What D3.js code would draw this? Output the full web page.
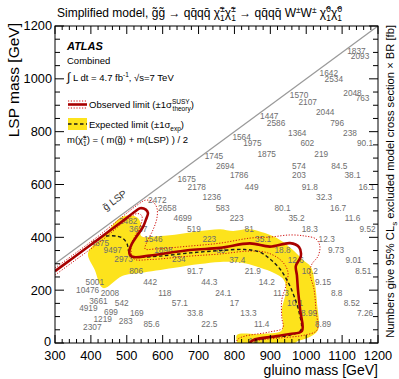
<!DOCTYPE html>
<html>
<head>
<meta charset="utf-8">
<script src="https://cdn.jsdelivr.net/npm/d3@7"></script>
<style>
  body { margin: 0; background: #fff; }
  svg { font-family: "Liberation Sans", Arial, sans-serif; }
</style>
</head>
<body>
<div id="chart"></div>
<script>
// chart size and plot frame
const width = 399, height = 379;
const margin = {left: 55, right: 21, top: 26, bottom: 36};

// numbers printed on the grid: gluino mass, LSP mass, excluded cross section [fb]
const pointGluino = [1140, 1150, 1063, 1077, 1129, 1157, 980, 1004, 1053, 1086,
  897, 916, 975, 1122, 820, 850, 1003, 1164, 743, 890, 1042, 774, 980, 1092,
  813, 980, 1129, 667, 695, 848, 1010, 1168, 737, 1050, 585, 613, 767, 934, 1089,
  656, 806, 973, 1129, 504, 532, 687, 841, 1010, 1171, 574, 730, 880, 1057,
  425, 461, 602, 762, 934, 1083, 491, 645, 808, 971, 1132, 526, 690, 851, 1010, 1159,
  411, 565, 730, 890, 1047, 391, 453, 606, 769, 930, 1085, 421, 486, 648, 800, 969, 1127,
  393, 456, 528, 690, 839, 1008, 1164, 433, 497, 569, 730, 876, 1047, 404, 862];
const pointLsp = [1105, 1085, 1021, 1000, 947, 926, 939, 913, 873, 832,
  860, 832, 794, 794, 781, 755, 755, 755, 708, 715, 715, 670, 670, 670,
  636, 636, 636, 620, 592, 592, 592, 592, 553, 553, 541, 512, 512, 512, 512,
  472, 472, 472, 472, 462, 430, 430, 430, 430, 430, 392, 392, 392, 392,
  377, 352, 352, 352, 352, 352, 316, 316, 314, 314, 314, 273, 273, 273, 273, 273,
  230, 230, 230, 230, 230, 201, 190, 190, 190, 190, 190, 160, 150, 150, 150, 150, 150,
  131, 118, 112, 112, 112, 112, 112, 90, 83, 72, 72, 72, 72, 59, 9];
const pointLabel = ["1837", "2093", "1642", "2534", "2048", "763", "1570", "2107", "2044", "796",
  "1447", "2586", "1364", "238", "1564", "1975", "602", "90.1", "1745", "1875", "219", "2694", "574", "84.5",
  "1786", "203", "38.1", "1675", "2178", "449", "91.8", "16.1", "1236", "32.3", "2472", "2658", "583", "80.1", "16.7",
  "4699", "223", "35.2", "11.6", "2482", "3637", "519", "81", "18.3", "9.52", "1546", "223", "35.1", "12.3",
  "4875", "9497", "1898", "89", "18.8", "9.73", "2973", "234", "37.4", "12.6", "9.01", "806", "91.7", "21.9", "10.2", "8.51",
  "5001", "442", "44.3", "14.2", "9.15", "10476", "2008", "118", "24.1", "11.3", "8.8", "3661", "542", "57.1", "17", "10.1", "8.52",
  "4919", "699", "169", "33.8", "13.3", "8.99", "7.26", "1219", "283", "85.6", "22.5", "11.4", "8.89", "2307", "10.1"];

// observed limit contour [gluino, LSP]
const observed = [[300, 272], [350, 322], [425, 397], [481, 454], [523, 498], [537, 510], [553, 505],
  [559, 492], [553, 466], [545, 439], [528, 405], [514, 375], [507, 348], [509, 333], [520, 325],
  [565, 331], [676, 352], [760, 360], [843, 377], [899, 365], [955, 378], [980, 363], [985, 329],
  [971, 291], [974, 257], [977, 201], [983, 125], [988, 45], [955, 34], [918, 26], [852, 11], [843, 0]];
const observedUp = [[300, 284], [350, 333], [425, 409], [531, 524], [553, 541], [573, 534], [584, 511],
  [584, 473], [573, 428], [556, 382], [551, 356], [579, 356], [676, 367], [760, 378], [843, 397],
  [899, 401], [955, 409], [996, 405], [1027, 394], [1038, 367], [1033, 329], [1016, 299], [1010, 269],
  [1022, 201], [1027, 125], [1030, 49], [996, 30], [927, 19], [860, 8], [852, 0]];
const observedDown = [[300, 257], [350, 307], [425, 382], [514, 481], [531, 490], [542, 481], [540, 450],
  [526, 413], [514, 378], [512, 348], [520, 318], [565, 316], [676, 329], [760, 337], [843, 348],
  [893, 341], [932, 310], [949, 269], [944, 220], [932, 163], [932, 95], [935, 57], [899, 42],
  [829, 26], [810, 15], [804, 0]];

// expected limit contour and its +-1 sigma band
const expected = [[442, 405], [470, 405], [489, 396], [501, 375], [505, 348], [512, 327], [537, 325],
  [592, 329], [676, 341], [760, 350], [829, 354], [871, 344], [899, 318], [927, 280], [949, 231],
  [966, 178], [980, 117], [985, 49], [955, 30], [885, 19], [849, 8], [843, 0]];
const expectedUp = [[392, 341], [436, 405], [481, 473], [509, 484], [531, 473], [540, 447], [540, 405],
  [592, 405], [648, 413], [704, 424], [760, 431], [796, 424], [843, 431], [885, 416], [927, 390],
  [963, 352], [991, 314], [1013, 288], [1024, 227], [1030, 151], [1033, 49], [1010, 23], [969, 0],
  [969, -20]];
const expectedDown = [[807, -20], [807, 0], [807, 30], [871, 34], [930, 45], [935, 68], [932, 125], [944, 201],
  [938, 238], [921, 257], [891, 276], [824, 303], [760, 307], [704, 299], [629, 284], [537, 265],
  [487, 254], [434, 208], [411, 276]];

const svg = d3.select("#chart").append("svg")
  .attr("width", width)
  .attr("height", height);

const x = d3.scaleLinear().domain([300, 1200]).range([margin.left, width - margin.right]);
const y = d3.scaleLinear().domain([0, 1200]).range([height - margin.bottom, margin.top]);

svg.append("clipPath").attr("id", "plotclip")
  .append("rect")
  .attr("x", x(300)).attr("y", y(1200))
  .attr("width", x(1200) - x(300)).attr("height", y(0) - y(1200));

const plot = svg.append("g").attr("clip-path", "url(#plotclip)");

// yellow band
const band = expectedUp.concat(expectedDown);
plot.append("path")
  .attr("d", d3.line().x(d => x(d[0])).y(d => y(d[1])).curve(d3.curveCatmullRomClosed.alpha(0.5))(band))
  .attr("fill", "#fde31c")
  .attr("stroke", "none");

// kinematic limit diagonal
plot.append("line")
  .attr("x1", x(300)).attr("y1", y(300))
  .attr("x2", x(1200)).attr("y2", y(1200))
  .attr("stroke", "#9a9a9a")
  .attr("stroke-width", 1.3);

// cross section numbers
plot.append("g")
  .selectAll("text")
  .data(pointLabel.map((t, i) => ({g: pointGluino[i], l: pointLsp[i], t: t})))
  .enter()
  .append("text")
  .attr("x", d => x(d.g))
  .attr("y", d => y(d.l))
  .attr("dy", "0.35em")
  .attr("text-anchor", "middle")
  .attr("font-size", 8.3)
  .attr("fill", "#6e6e6e")
  .text(d => d.t);

const line = d3.line().x(d => x(d[0])).y(d => y(d[1])).curve(d3.curveCatmullRom.alpha(0.5));

[observedUp, observedDown].forEach(c => {
  plot.append("path")
    .attr("d", line(c))
    .attr("fill", "none")
    .attr("stroke", "#d01010")
    .attr("stroke-width", 1)
    .attr("stroke-dasharray", "1.2,1.6");
});

plot.append("path")
  .attr("d", line(expected))
  .attr("fill", "none")
  .attr("stroke", "#1a1a1a")
  .attr("stroke-width", 1.4)
  .attr("stroke-dasharray", "3.5,2.5");

plot.append("path")
  .attr("d", line(observed))
  .attr("fill", "none")
  .attr("stroke", "#a80000")
  .attr("stroke-width", 2.6);

// diagonal label
svg.append("text")
  .attr("transform", `translate(${x(472)},${y(530)}) rotate(-36.3)`)
  .attr("text-anchor", "middle")
  .attr("font-size", 10)
  .attr("fill", "#333")
  .text("g\u0303 LSP");

// frame and ticks
const frame = svg.append("g").attr("fill", "none").attr("stroke", "#000").attr("stroke-width", 1);
frame.append("rect")
  .attr("x", x(300)).attr("y", y(1200))
  .attr("width", x(1200) - x(300)).attr("height", y(0) - y(1200));

d3.range(300, 1201, 20).forEach(v => {
  const len = v % 100 === 0 ? 8 : 4;
  frame.append("line").attr("x1", x(v)).attr("x2", x(v)).attr("y1", y(0)).attr("y2", y(0) - len);
  frame.append("line").attr("x1", x(v)).attr("x2", x(v)).attr("y1", y(1200)).attr("y2", y(1200) + len);
});
d3.range(0, 1201, 50).forEach(v => {
  const len = v % 200 === 0 ? 9 : 5;
  frame.append("line").attr("y1", y(v)).attr("y2", y(v)).attr("x1", x(300)).attr("x2", x(300) + len);
  frame.append("line").attr("y1", y(v)).attr("y2", y(v)).attr("x1", x(1200)).attr("x2", x(1200) - len);
});

svg.append("g").selectAll("text")
  .data(d3.range(300, 1201, 100))
  .enter().append("text")
  .attr("x", d => x(d)).attr("y", y(0) + 17)
  .attr("text-anchor", "middle")
  .attr("font-size", 12.8)
  .text(d => d);

svg.append("g").selectAll("text")
  .data(d3.range(0, 1201, 200))
  .enter().append("text")
  .attr("x", d => d === 0 ? x(300) - 4 : x(300) - 3).attr("y", d => y(d))
  .attr("dy", d => d === 0 ? "0.2em" : "0.35em")
  .attr("text-anchor", "end")
  .attr("font-size", 12.8)
  .text(d => d);

// axis titles
svg.append("text")
  .attr("x", x(1200)).attr("y", 375)
  .attr("text-anchor", "end")
  .attr("font-size", 14)
  .text("gluino mass [GeV]");

svg.append("text")
  .attr("transform", `translate(19,${y(1200) - 3}) rotate(-90)`)
  .attr("text-anchor", "end")
  .attr("font-size", 15.5)
  .text("LSP mass [GeV]");

const rt = svg.append("text")
  .attr("transform", `translate(394,${y(1200) - 1}) rotate(-90)`)
  .attr("text-anchor", "end")
  .attr("font-size", 11.2);
rt.append("tspan").text("Numbers give 95% CL");
rt.append("tspan").attr("font-size", 8).attr("dy", 3).text("s");
rt.append("tspan").attr("dy", -3).text(" excluded model cross section \u00d7 BR [fb]");

// title with sub/superscripts
function richText(sel, parts, size) {
  parts.forEach(p => {
    const t = sel.append("tspan").text(p[0]);
    if (p[1] === "sub" || p[1] === "sup") t.attr("font-size", size * 0.7);
    if (p[2] !== undefined) t.attr("dx", p[2]);
    if (p[3] !== undefined) t.attr("dy", p[3]);
  });
}

const title = svg.append("text")
  .attr("x", 57).attr("y", 17)
  .attr("font-size", 12);
richText(title, [
  ["Simplified model, g\u0303g\u0303 \u2192 qq\u0304qq\u0304 \u03c7\u0303", "n"],
  ["1", "sub", 0, 3.5], ["\u00b1", "sup", -4.5, -9], ["\u03c7\u0303", "n", 0, 5.5],
  ["1", "sub", 0, 3.5], ["\u00b1", "sup", -4.5, -9], [" \u2192 qq\u0304qq\u0304 W", "n", 0, 5.5],
  ["\u00b1", "sup", 0, -4.5], ["W", "n", 0, 4.5], ["\u00b1", "sup", 0, -4.5],
  [" \u03c7\u0303", "n", 0, 4.5],
  ["1", "sub", 0, 3.5], ["0", "sup", -4.5, -9], ["\u03c7\u0303", "n", 0, 5.5],
  ["1", "sub", 0, 3.5], ["0", "sup", -4.5, -9]
], 12);

// legend block
const lx = 67;
svg.append("text").attr("x", lx).attr("y", 50)
  .attr("font-size", 11).attr("font-weight", "bold").attr("font-style", "italic")
  .text("ATLAS");
svg.append("text").attr("x", lx).attr("y", 64).attr("font-size", 9.5).text("Combined");

const lumi = svg.append("text").attr("x", lx).attr("y", 81).attr("font-size", 9.5);
lumi.append("tspan").attr("font-size", 12).text("\u222b");
lumi.append("tspan").text(" L dt = 4.7 fb");
lumi.append("tspan").attr("font-size", 6.5).attr("dy", -4).text("-1");
lumi.append("tspan").attr("dy", 4).text(", \u221as=7 TeV");

// observed legend entry
[[101, 1, "1.2,1.6", "#d01010"], [108, 1, "1.2,1.6", "#d01010"], [104.5, 2.6, null, "#a80000"]].forEach(s => {
  svg.append("line")
    .attr("x1", 68).attr("x2", 87).attr("y1", s[0]).attr("y2", s[0])
    .attr("stroke", s[3]).attr("stroke-width", s[1])
    .attr("stroke-dasharray", s[2]);
});
const obsText = svg.append("text").attr("x", 89).attr("y", 108).attr("font-size", 9.5);
obsText.append("tspan").text("Observed limit (\u00b11\u03c3");
obsText.append("tspan").attr("font-size", 6.5).attr("dy", -4).text("SUSY");
obsText.append("tspan").attr("font-size", 6.5).attr("dx", -17).attr("dy", 7).text("theory");
obsText.append("tspan").attr("dy", -3).text(")");

svg.append("rect").attr("x", 68).attr("y", 118).attr("width", 19).attr("height", 12).attr("fill", "#fde31c");
svg.append("line").attr("x1", 68).attr("x2", 87).attr("y1", 124).attr("y2", 124)
  .attr("stroke", "#1a1a1a").attr("stroke-width", 1.4).attr("stroke-dasharray", "3.5,2.5");
const expText = svg.append("text").attr("x", 89).attr("y", 128).attr("font-size", 9.5);
expText.append("tspan").text("Expected limit (\u00b11\u03c3");
expText.append("tspan").attr("font-size", 6.5).attr("dy", 2.5).text("exp");
expText.append("tspan").attr("dy", -2.5).text(")");

const mText = svg.append("text").attr("x", lx).attr("y", 143).attr("font-size", 9.5);
mText.append("tspan").text("m(\u03c7\u0303");
mText.append("tspan").attr("font-size", 6.5).attr("dy", 2.5).text("1");
mText.append("tspan").attr("font-size", 6.5).attr("dx", -3.6).attr("dy", -6).text("\u00b1");
mText.append("tspan").attr("dy", 3.5).text(") = ( m(g\u0303) + m(LSP) ) / 2");
</script>
</body>
</html>
